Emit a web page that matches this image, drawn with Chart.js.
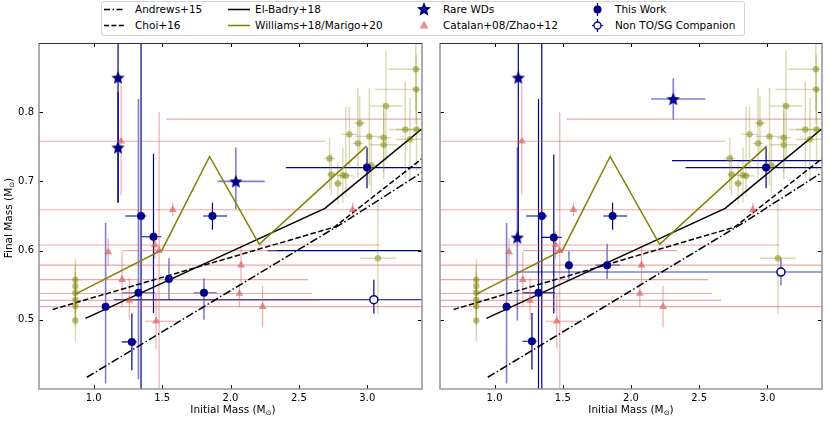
<!DOCTYPE html>
<html>
<head>
<meta charset="utf-8">
<script src="https://cdn.jsdelivr.net/npm/chart.js@4.4.0/dist/chart.umd.min.js"></script>
<style>
body { margin: 0; background: #fff; }
#fig { position: relative; width: 830px; height: 422px; overflow: hidden; font-family: "DejaVu Sans", sans-serif; color: #000; }
#fig canvas { position: absolute; top: 0; }
.lab { position: absolute; font-size: 10.5px; line-height: 12px; white-space: nowrap; }
.ttl { position: absolute; font-size: 10.5px; line-height: 12px; white-space: nowrap; text-align: center; }
.ttl sub { font-size: 7px; vertical-align: -2px; }
#legbox { position: absolute; left: 101px; top: 1px; width: 642px; height: 33px; border: 1px solid #d4d4d4; border-radius: 3px; background: #fff; }
</style>
</head>
<body>
<div id="fig">
  <canvas id="left" width="430" height="422" style="left:0px"></canvas>
  <canvas id="right" width="398" height="422" style="left:432px"></canvas>

  <div class="ttl" style="left:-40px; top:210px; width:100px; transform:rotate(-90deg);">Final Mass (M<sub>⊙</sub>)</div>
  <div class="ttl" style="left:173px; top:403px; width:120px;">Initial Mass (M<sub>⊙</sub>)</div>
  <div class="ttl" style="left:571px; top:403px; width:120px;">Initial Mass (M<sub>⊙</sub>)</div>

  <div id="legbox"></div>
  <svg id="legicons" width="830" height="40" style="position:absolute;left:0;top:0"></svg>
  <span class="lab" style="left:135px; top:3px;">Andrews+15</span>
  <span class="lab" style="left:135px; top:19px;">Choi+16</span>
  <span class="lab" style="left:255px; top:3px;">El-Badry+18</span>
  <span class="lab" style="left:255px; top:19px;">Williams+18/Marigo+20</span>
  <span class="lab" style="left:443px; top:3px;">Rare WDs</span>
  <span class="lab" style="left:443px; top:19px;">Catalan+08/Zhao+12</span>
  <span class="lab" style="left:615px; top:3px;">This Work</span>
  <span class="lab" style="left:615px; top:19px;">Non TO/SG Companion</span>
</div>

<script>
// axis ticks
var xTicks = [1.0, 1.5, 2.0, 2.5, 3.0];
var yTicks = [0.5, 0.6, 0.7, 0.8];

// IFMR relations
var andrewsX = [0.95, 2.83, 3.40];
var andrewsY = [0.417, 0.641, 0.713];
var choiX = [0.70, 2.76, 3.40];
var choiY = [0.515, 0.634, 0.733];
var elBadryX = [0.94, 2.69, 3.40];
var elBadryY = [0.502, 0.661, 0.776];
var williamsX = [0.866, 1.50, 1.847, 2.21, 2.995];
var williamsY = [0.537, 0.601, 0.736, 0.609, 0.751];

// rows: [x, y, x-, x+, y-, y+]
var thisWorkLeft = [
  [1.087, 0.519, 0, 0, 0.111, 0.121],
  [1.279, 0.468, 0.073, 0.035, 0.041, 0.041],
  [1.327, 0.539, 0.117, 0.120, 0.125, 0.280],
  [1.346, 0.650, 0.116, 0.040, 0.250, 0.300],
  [1.437, 0.620, 0.087, 0.057, 0.110, 0.120],
  [1.550, 0.559, 0, 0, 0.030, 0.030],
  [1.806, 0.539, 0.076, 0.094, 0.039, 0.021],
  [1.868, 0.650, 0.068, 0.107, 0.020, 0.019],
  [2.998, 0.720, 0.593, 0.600, 0.030, 0.029],
  [3.600, 0.600, 1.330, 0, 0, 0]
];
var thisWorkRight = [
  [1.088, 0.519, 0, 0, 0.111, 0.121],
  [1.274, 0.469, 0.070, 0.035, 0.041, 0.041],
  [1.322, 0.539, 0.117, 0.120, 0.140, 0.280],
  [1.346, 0.650, 0.116, 0.040, 0.250, 0.300],
  [1.434, 0.619, 0.087, 0.057, 0.110, 0.120],
  [1.545, 0.579, 0, 0, 0.020, 0.020],
  [1.825, 0.579, 0.085, 0.095, 0.020, 0.031],
  [1.865, 0.650, 0.068, 0.107, 0.020, 0.019],
  [2.990, 0.720, 0.590, 0.600, 0.030, 0.029],
  [3.600, 0.730, 1.300, 0, 0, 0]
];
var rareLeft = [
  [1.178, 0.850, 0, 0, 0.180, 0.100],
  [1.178, 0.749, 0, 0, 0.080, 0.080],
  [2.039, 0.700, 0.132, 0.211, 0.040, 0.049]
];
var rareRight = [
  [1.174, 0.850, 0, 0, 0.230, 0.100],
  [1.167, 0.619, 0, 0, 0.120, 0.130],
  [2.310, 0.819, 0.163, 0.236, 0.030, 0.030]
];
var companionLeft = [[3.048, 0.529, 1.900, 0.600, 0.020, 0.029]];
var companionRight = [[3.099, 0.569, 1.944, 0.600, 0.019, 0.020]];

var catalan = [
  [1.200, 0.758, 0.70, 1.49, 0.078, 0.082],
  [1.578, 0.659, 1.00, 2.00, 0.009, 0.010],
  [1.106, 0.598, 0, 0, 0.020, 0.020],
  [1.447, 0.608, 1.00, 1.64, 0.020, 0.020],
  [1.478, 0.600, 0.27, 0.86, 0.200, 0.200],
  [1.207, 0.558, 0.70, 1.36, 0.040, 0.040],
  [1.260, 0.528, 0.70, 1.40, 0.028, 0.032],
  [1.456, 0.498, 0.08, 0.18, 0.040, 0.040],
  [2.077, 0.579, 1.60, 1.50, 0.027, 0.027],
  [2.065, 0.538, 1.60, 0.53, 0.020, 0.015],
  [2.235, 0.519, 1.70, 1.30, 0.030, 0.030],
  [2.893, 0.659, 0, 0, 0.010, 0.010],
  [3.600, 0.790, 2.07, 0, 0, 0]
];

var williamsData = [
  [0.866, 0.558, 0, 0, 0.03, 0.03],
  [0.866, 0.549, 0, 0, 0.03, 0.03],
  [0.866, 0.539, 0, 0, 0.03, 0.03],
  [0.866, 0.529, 0, 0, 0.03, 0.03],
  [0.866, 0.520, 0, 0, 0.03, 0.03],
  [0.866, 0.499, 0, 0, 0.03, 0.03],
  [2.724, 0.733, 0.04, 0.04, 0.045, 0.030],
  [2.737, 0.710, 0.03, 0.03, 0.030, 0.030],
  [2.785, 0.697, 0.03, 0.03, 0.030, 0.030],
  [2.821, 0.709, 0.05, 0.05, 0.040, 0.040],
  [2.843, 0.708, 0.06, 0.06, 0.030, 0.100],
  [2.869, 0.768, 0.06, 0.06, 0.050, 0.040],
  [2.931, 0.755, 0.04, 0.04, 0.050, 0.080],
  [2.945, 0.784, 0.04, 0.04, 0.040, 0.040],
  [3.015, 0.765, 0.10, 0.10, 0.070, 0.070],
  [3.029, 0.723, 0.05, 0.05, 0.040, 0.040],
  [3.120, 0.763, 0.05, 0.05, 0.050, 0.050],
  [3.120, 0.753, 0.10, 0.10, 0.050, 0.050],
  [3.137, 0.809, 0.12, 0.12, 0.080, 0.080],
  [3.278, 0.775, 0.12, 0.12, 0.070, 0.070],
  [3.312, 0.761, 0.10, 0.10, 0.060, 0.060],
  [3.355, 0.862, 0.20, 0.20, 0.060, 0.060],
  [3.357, 0.833, 0.30, 0.30, 0.050, 0.050],
  [3.360, 0.775, 0.15, 0.15, 0.060, 0.060],
  [3.077, 0.589, 0.13, 0.13, 0.080, 0.080]
];

// which rows get the pale error bars
var faintWorkLeft = [0, 2, 5, 6];
var faintWorkRight = [0, 5, 6];
var faintRareLeft = [2];
var faintRareRight = [1, 2];
var faintCompLeft = [];
var faintCompRight = [0];

var NAVY = '#00008b';
var PINK = 'rgba(220,95,95,0.68)';
var OLIVE = '#808000';

function toPts(rows) {
  return rows.map(function(r) { return { x: r[0], y: r[1] }; });
}
function toLine(xs, ys) {
  return xs.map(function(v, i) { return { x: v, y: ys[i] }; });
}

function makeStar(size, color) {
  var c = document.createElement('canvas');
  c.width = size; c.height = size;
  var g = c.getContext('2d');
  var R = size / 2, r = R * 0.45;
  g.beginPath();
  for (var i = 0; i < 10; i++) {
    var ang = -Math.PI / 2 + i * Math.PI / 5;
    var rad = (i % 2 === 0) ? R : r;
    g.lineTo(R + rad * Math.cos(ang), R + 0.6 + rad * Math.sin(ang));
  }
  g.closePath();
  g.fillStyle = color;
  g.fill();
  return c;
}
var starImg = makeStar(14, NAVY);

// error bars, drawn under the markers
var errPlugin = {
  id: 'errbars',
  beforeDatasetsDraw: function(chart) {
    var ctx = chart.ctx, a = chart.chartArea;
    var sx = chart.scales.x, sy = chart.scales.y;
    ctx.save();
    ctx.beginPath();
    ctx.rect(a.left, a.top, a.right - a.left, a.bottom - a.top);
    ctx.clip();
    chart.data.datasets.forEach(function(ds) {
      if (!ds.err) return;
      ds.err.forEach(function(r, i) {
        var faint = ds.faint && ds.faint.indexOf(i) >= 0;
        ctx.strokeStyle = faint ? ds.faintColor : ds.errColor;
        ctx.lineWidth = faint ? 1.6 : ds.errWidth;
        var px = sx.getPixelForValue(r[0]), py = sy.getPixelForValue(r[1]);
        ctx.beginPath();
        if (r[2] || r[3]) {
          ctx.moveTo(sx.getPixelForValue(r[0] - r[2]), py);
          ctx.lineTo(sx.getPixelForValue(r[0] + r[3]), py);
        }
        if (r[4] || r[5]) {
          ctx.moveTo(px, sy.getPixelForValue(r[1] - r[4]));
          ctx.lineTo(px, sy.getPixelForValue(r[1] + r[5]));
        }
        ctx.stroke();
      });
    });
    ctx.restore();
  }
};

// frame with inward ticks on all four sides
var framePlugin = {
  id: 'frame',
  afterDraw: function(chart) {
    var ctx = chart.ctx, a = chart.chartArea;
    var sx = chart.scales.x, sy = chart.scales.y;
    ctx.save();
    ctx.strokeStyle = '#000';
    ctx.lineWidth = 1;
    ctx.beginPath();
    xTicks.forEach(function(v) {
      var p = Math.round(sx.getPixelForValue(v)) + 0.5;
      ctx.moveTo(p, a.bottom); ctx.lineTo(p, a.bottom - 4);
      ctx.moveTo(p, a.top); ctx.lineTo(p, a.top + 4);
    });
    yTicks.forEach(function(v) {
      var p = Math.round(sy.getPixelForValue(v)) + 0.5;
      ctx.moveTo(a.left, p); ctx.lineTo(a.left + 4, p);
      ctx.moveTo(a.right, p); ctx.lineTo(a.right - 4, p);
    });
    ctx.stroke();
    ctx.strokeStyle = '#999';
    ctx.lineWidth = 1.6;
    ctx.beginPath();
    ctx.moveTo(a.left, a.top); ctx.lineTo(a.left, a.bottom);
    ctx.lineTo(a.right, a.bottom); ctx.lineTo(a.right, a.top);
    ctx.stroke();
    ctx.strokeStyle = '#333';
    ctx.lineWidth = 1;
    ctx.beginPath();
    ctx.moveTo(a.left, a.top + 0.5); ctx.lineTo(a.right, a.top + 0.5);
    ctx.stroke();
    ctx.restore();
  }
};

function buildDatasets(work, faintWork, rare, faintRare, comp, faintComp) {
  return [
    {
      label: 'This Work', data: toPts(work), err: work, faint: faintWork,
      errColor: NAVY, faintColor: 'rgba(0,0,170,0.5)', errWidth: 1.2,
      pointStyle: 'circle', pointRadius: 4, backgroundColor: NAVY, borderColor: NAVY, borderWidth: 0
    },
    {
      label: 'Non TO/SG Companion', data: toPts(comp), err: comp, faint: faintComp,
      errColor: NAVY, faintColor: 'rgba(0,0,170,0.5)', errWidth: 1.2,
      pointStyle: 'circle', pointRadius: 4, backgroundColor: '#fff', borderColor: NAVY, borderWidth: 1.5
    },
    {
      label: 'Rare WDs', data: toPts(rare), err: rare, faint: faintRare,
      errColor: NAVY, faintColor: 'rgba(0,0,170,0.5)', errWidth: 1.2,
      pointStyle: starImg, pointRadius: 7
    },
    {
      label: 'Catalan+08/Zhao+12', data: toPts(catalan), err: catalan,
      errColor: 'rgba(222,95,95,0.55)', errWidth: 1.1,
      pointStyle: 'triangle', pointRadius: 4.6, backgroundColor: PINK, borderColor: PINK, borderWidth: 0
    },
    {
      label: 'Williams data', data: toPts(williamsData), err: williamsData,
      errColor: 'rgba(128,128,0,0.3)', errWidth: 1.4,
      pointStyle: 'circle', pointRadius: 3.2, backgroundColor: 'rgba(128,128,0,0.5)', borderWidth: 0
    },
    {
      label: 'Williams+18/Marigo+20', data: toLine(williamsX, williamsY), showLine: true,
      borderColor: OLIVE, borderWidth: 1.5, pointRadius: 0
    },
    {
      label: 'El-Badry+18', data: toLine(elBadryX, elBadryY), showLine: true,
      borderColor: '#000', borderWidth: 1.5, pointRadius: 0
    },
    {
      label: 'Choi+16', data: toLine(choiX, choiY), showLine: true,
      borderColor: '#000', borderWidth: 1.5, borderDash: [5.5, 2.4], pointRadius: 0
    },
    {
      label: 'Andrews+15', data: toLine(andrewsX, andrewsY), showLine: true,
      borderColor: '#000', borderWidth: 1.5, borderDash: [8, 2.5, 1.5, 2.5], pointRadius: 0
    }
  ];
}

function panelOptions(showY) {
  var tickFont = { family: 'DejaVu Sans', size: 10 };
  return {
    responsive: false,
    animation: false,
    layout: { padding: { top: 43, right: showY ? 2 : 4, left: 0, bottom: 0 } },
    plugins: { legend: { display: false }, tooltip: { enabled: false } },
    scales: {
      x: {
        type: 'linear', min: 0.6, max: 3.4,
        grid: { display: false, drawTicks: false },
        border: { display: false },
        afterBuildTicks: function(s) { s.ticks = xTicks.map(function(v) { return { value: v }; }); },
        afterFit: function(s) { s.height = 33; },
        ticks: {
          padding: 3, color: '#000', font: tickFont, maxRotation: 0, autoSkip: false,
          callback: function(v) { return Number(v).toFixed(1); }
        }
      },
      y: {
        type: 'linear', min: 0.4, max: 0.9,
        grid: { display: false, drawTicks: false },
        border: { display: false },
        afterBuildTicks: function(s) { s.ticks = yTicks.map(function(v) { return { value: v }; }); },
        afterFit: function(s) { s.width = showY ? 39 : 4; },
        ticks: {
          display: showY, padding: 5, color: '#000', font: tickFont, autoSkip: false,
          callback: function(v) { return Number(v).toFixed(1); }
        }
      }
    }
  };
}

var leftChart = new Chart(document.getElementById('left'), {
  type: 'scatter',
  data: { datasets: buildDatasets(thisWorkLeft, faintWorkLeft, rareLeft, faintRareLeft, companionLeft, faintCompLeft) },
  options: panelOptions(true),
  plugins: [errPlugin, framePlugin]
});

var rightChart = new Chart(document.getElementById('right'), {
  type: 'scatter',
  data: { datasets: buildDatasets(thisWorkRight, faintWorkRight, rareRight, faintRareRight, companionRight, faintCompRight) },
  options: panelOptions(false),
  plugins: [errPlugin, framePlugin]
});

// legend icons
(function() {
  var svg = document.getElementById('legicons');
  var ns = 'http://www.w3.org/2000/svg';
  function add(tag, attrs) {
    var el = document.createElementNS(ns, tag);
    for (var k in attrs) el.setAttribute(k, attrs[k]);
    svg.appendChild(el);
  }
  function starPts(cx, cy, R) {
    var pts = [];
    for (var i = 0; i < 10; i++) {
      var ang = -Math.PI / 2 + i * Math.PI / 5;
      var rad = (i % 2 === 0) ? R : R * 0.45;
      pts.push((cx + rad * Math.cos(ang)).toFixed(1) + ',' + (cy + 0.6 + rad * Math.sin(ang)).toFixed(1));
    }
    return pts.join(' ');
  }
  add('line', { x1: 104, y1: 9.5, x2: 124, y2: 9.5, stroke: '#000', 'stroke-width': 1.5, 'stroke-dasharray': '6 2.5 1.5 2.5' });
  add('line', { x1: 104, y1: 25.5, x2: 124, y2: 25.5, stroke: '#000', 'stroke-width': 1.5, 'stroke-dasharray': '5 2.4' });
  add('line', { x1: 228, y1: 9.5, x2: 250, y2: 9.5, stroke: '#000', 'stroke-width': 1.5 });
  add('line', { x1: 228, y1: 25.5, x2: 250, y2: 25.5, stroke: OLIVE, 'stroke-width': 1.5 });
  add('polygon', { points: starPts(424, 9, 7.5), fill: NAVY });
  add('polygon', { points: '424,20.5 428.5,28.5 419.5,28.5', fill: PINK });
  add('line', { x1: 597.5, y1: 3, x2: 597.5, y2: 16, stroke: NAVY, 'stroke-width': 1.2 });
  add('circle', { cx: 597.5, cy: 9.5, r: 4, fill: NAVY });
  add('line', { x1: 597.5, y1: 19, x2: 597.5, y2: 32, stroke: NAVY, 'stroke-width': 1.2 });
  add('line', { x1: 592, y1: 25.5, x2: 603, y2: 25.5, stroke: NAVY, 'stroke-width': 1.2 });
  add('circle', { cx: 597.5, cy: 25.5, r: 3.5, fill: '#fff', stroke: NAVY, 'stroke-width': 1.3 });
})();
</script>
</body>
</html>
